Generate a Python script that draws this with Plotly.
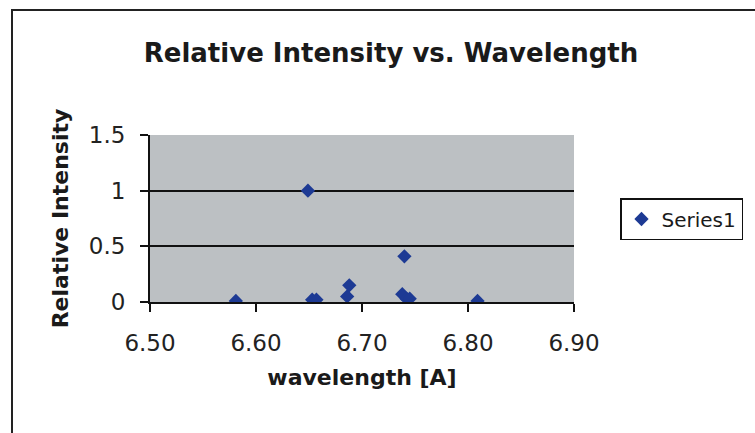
import plotly.graph_objects as go

# Measured lines: wavelength in angstrom and normalised intensity
wavelength = [6.581, 6.649, 6.653, 6.657, 6.686, 6.688, 6.738, 6.740, 6.742, 6.745, 6.809]
intensity = [0.01, 1.00, 0.02, 0.02, 0.05, 0.15, 0.07, 0.41, 0.03, 0.03, 0.01]

x_ticks = [6.50, 6.60, 6.70, 6.80, 6.90]
x_tick_text = ["6.50", "6.60", "6.70", "6.80", "6.90"]
y_ticks = [0, 0.5, 1, 1.5]
y_tick_text = ["0", "0.5", "1", "1.5"]

FONT = "DejaVu Sans, Arial, sans-serif"
TEXT = "#1a1a1a"

fig = go.Figure()
fig.add_trace(go.Scatter(
    x=wavelength, y=intensity, mode="markers", name="Series1",
    marker=dict(symbol="diamond", size=11, color="#1d3a94", line=dict(width=0)),
))

fig.update_layout(
    width=755, height=433,
    margin=dict(l=150, r=181, t=135, b=131, autoexpand=False),
    paper_bgcolor="white",
    plot_bgcolor="#bcc0c3",
    font=dict(family=FONT, color=TEXT),
    title=dict(text="<b>Relative Intensity vs. Wavelength</b>",
               x=391 / 755, xanchor="center", y=1 - 53 / 433, yanchor="middle",
               font=dict(size=26, color=TEXT)),
    showlegend=True,
    legend=dict(x=(620 - 150) / 424, xanchor="left", y=(302 - 198) / 167, yanchor="top",
                bordercolor="#111", borderwidth=1.5, bgcolor="white",
                font=dict(size=20, color=TEXT)),
    xaxis=dict(
        range=[6.5, 6.9], tickvals=x_ticks, ticktext=x_tick_text,
        showgrid=False, zeroline=False,
        showline=True, linecolor="#111", linewidth=2,
        ticks="outside", ticklen=8, tickwidth=2, tickcolor="#111",
        ticklabelstandoff=11,
        tickfont=dict(size=23, color="#222"),
        title=dict(text="<b>wavelength [A]</b>", font=dict(size=22, color=TEXT), standoff=15),
    ),
    yaxis=dict(
        range=[0, 1.5], tickvals=y_ticks, ticktext=y_tick_text,
        showgrid=True, gridcolor="#111", gridwidth=2, zeroline=False,
        showline=True, linecolor="#111", linewidth=2,
        ticks="outside", ticklen=8, tickwidth=2, tickcolor="#111",
        ticklabelstandoff=10,
        tickfont=dict(size=23, color="#222"),
        title=dict(text="<b>Relative Intensity</b>", font=dict(size=22, color=TEXT), standoff=14),
    ),
    shapes=[
        # outer chart frame (left and top edges fall inside the page)
        dict(type="rect", xref="paper", yref="paper",
             x0=(12 - 150) / 424, x1=(770 - 150) / 424,
             y0=(302 - 450) / 167, y1=(302 - 10) / 167,
             line=dict(color="#222", width=2), fillcolor="rgba(0,0,0,0)", layer="below"),
    ],
)

fig.write_html("out.html")
